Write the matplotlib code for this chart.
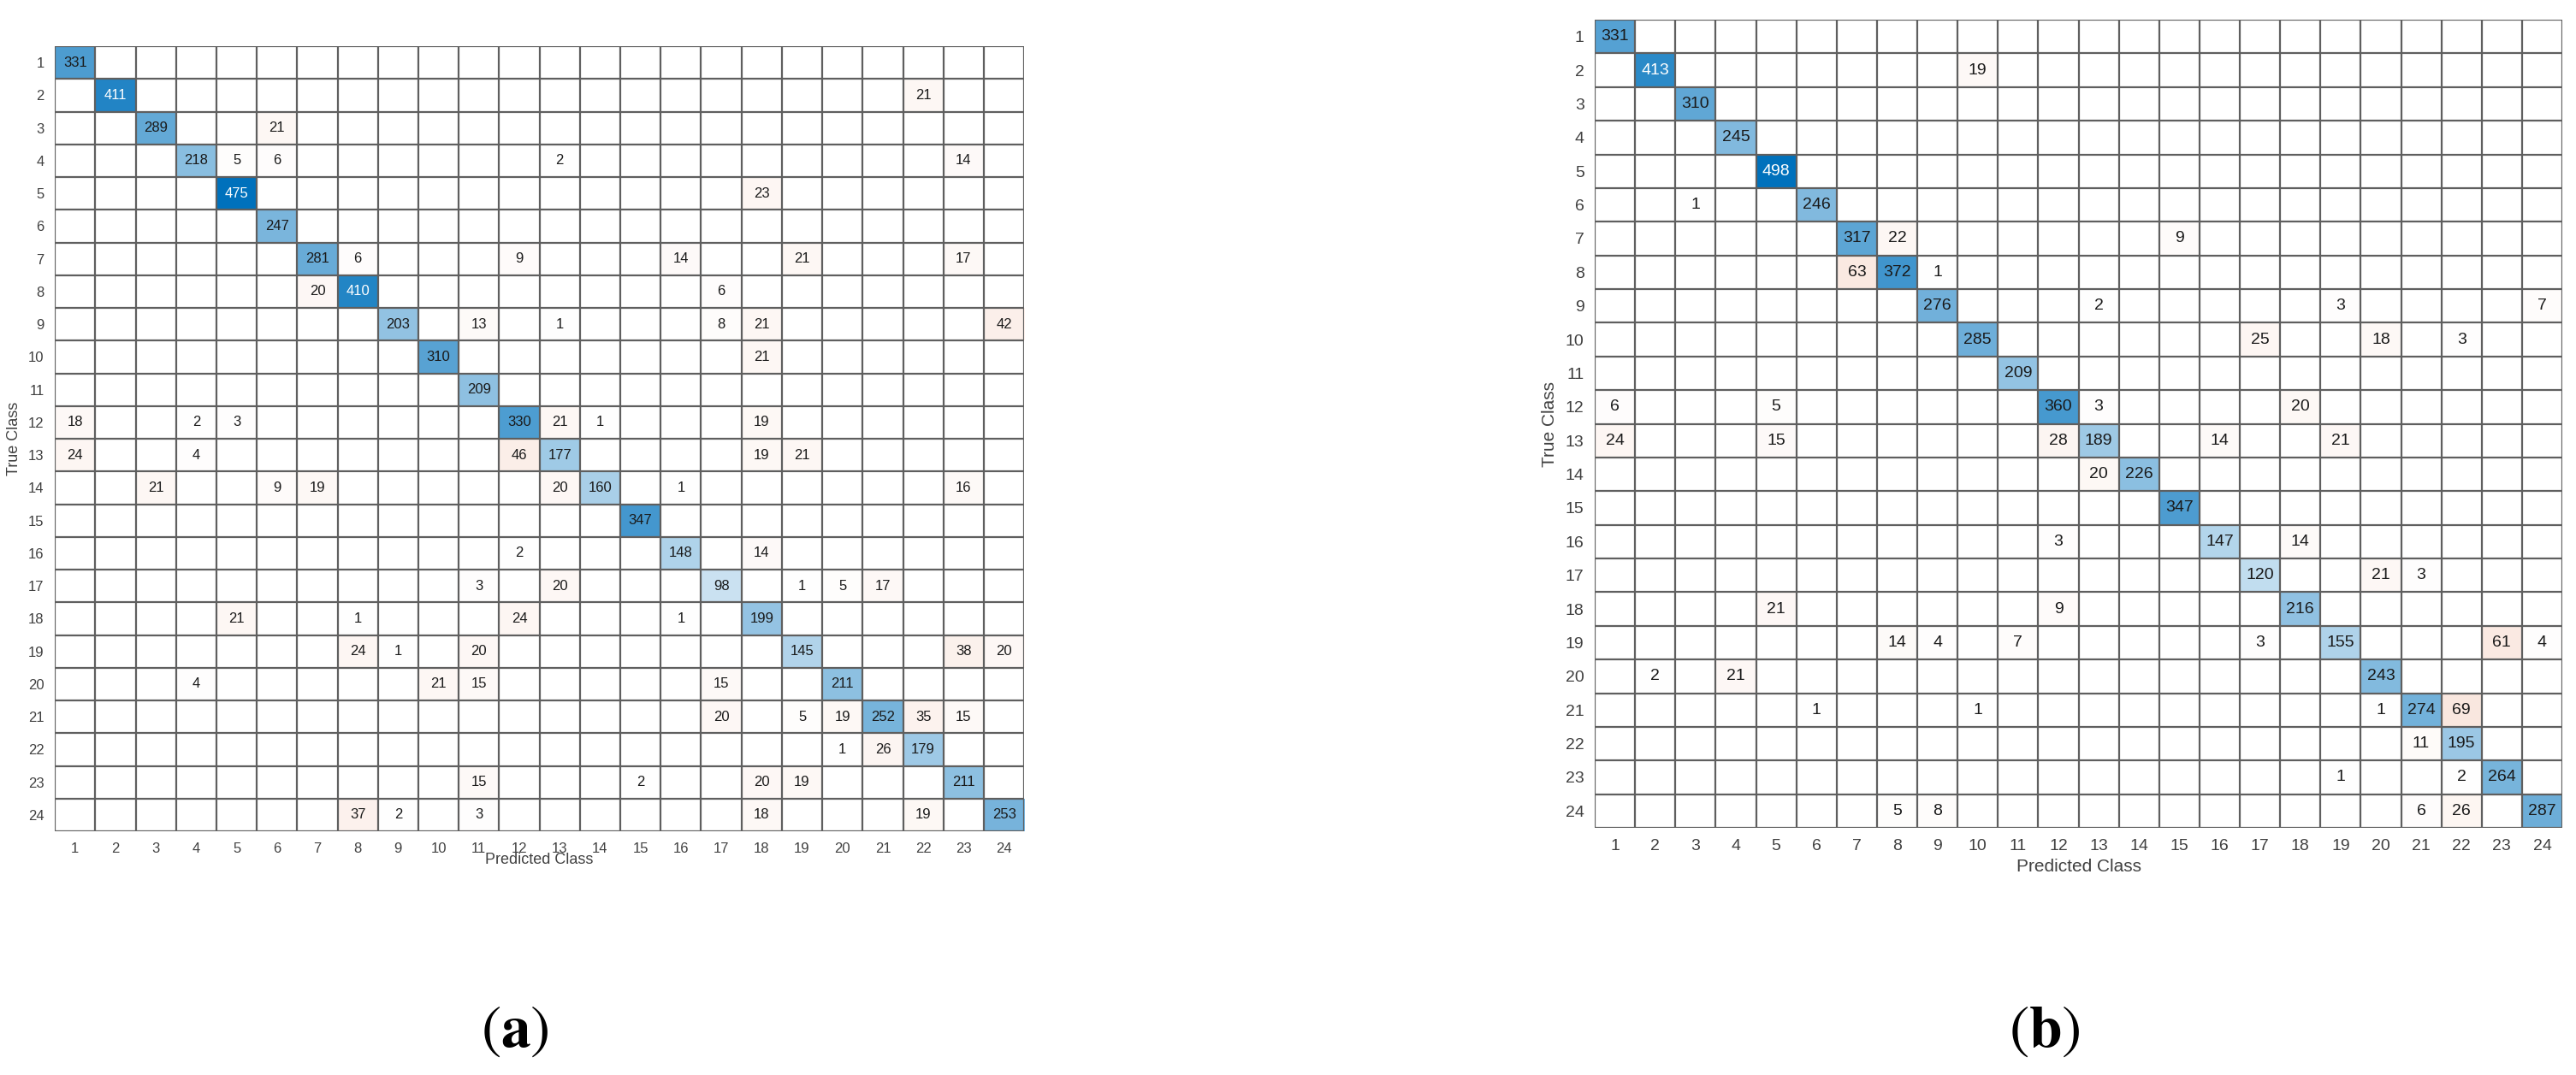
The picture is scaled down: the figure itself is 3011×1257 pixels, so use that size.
import numpy as np
import matplotlib.pyplot as plt

plt.rcParams['font.family'] = ['Liberation Sans', 'DejaVu Sans']
plt.rcParams['mathtext.fontset'] = 'stix'

classes = list(range(1, 25))

# (a) confusion matrix: diagonal + off-diagonal entries (true, predicted, count)
diag_a = [331, 411, 289, 218, 475, 247, 281, 410, 203, 310, 209, 330,
          177, 160, 347, 148, 98, 199, 145, 211, 252, 179, 211, 253]
true_a = [2, 3, 4, 4, 4, 4, 5, 7, 7, 7, 7, 7, 8, 8, 9, 9, 9, 9, 9, 10,
          12, 12, 12, 12, 12, 12, 13, 13, 13, 13, 13, 14, 14, 14, 14, 14, 14,
          16, 16, 17, 17, 17, 17, 17, 18, 18, 18, 18, 19, 19, 19, 19, 19,
          20, 20, 20, 20, 21, 21, 21, 21, 21, 22, 22, 23, 23, 23, 23,
          24, 24, 24, 24, 24]
pred_a = [22, 6, 5, 6, 13, 23, 18, 8, 12, 16, 19, 23, 7, 17, 11, 13, 17, 18, 24, 18,
          1, 4, 5, 13, 14, 18, 1, 4, 12, 18, 19, 3, 6, 7, 13, 16, 23,
          12, 18, 11, 13, 19, 20, 21, 5, 8, 12, 16, 8, 9, 11, 23, 24,
          4, 10, 11, 17, 17, 19, 20, 22, 23, 20, 21, 11, 15, 18, 19,
          8, 9, 11, 18, 22]
count_a = [21, 21, 5, 6, 2, 14, 23, 6, 9, 14, 21, 17, 20, 6, 13, 1, 8, 21, 42, 21,
           18, 2, 3, 21, 1, 19, 24, 4, 46, 19, 21, 21, 9, 19, 20, 1, 16,
           2, 14, 3, 20, 1, 5, 17, 21, 1, 24, 1, 24, 1, 20, 38, 20,
           4, 21, 15, 15, 20, 5, 19, 35, 15, 1, 26, 15, 2, 20, 19,
           37, 2, 3, 18, 19]

# (b) confusion matrix
diag_b = [331, 413, 310, 245, 498, 246, 317, 372, 276, 285, 209, 360,
          189, 226, 347, 147, 120, 216, 155, 243, 274, 195, 264, 287]
true_b = [2, 6, 7, 7, 8, 8, 9, 9, 9, 10, 10, 10, 12, 12, 12, 12,
          13, 13, 13, 13, 13, 14, 16, 16, 17, 17, 18, 18,
          19, 19, 19, 19, 19, 19, 20, 20, 21, 21, 21, 21, 22, 23, 23,
          24, 24, 24, 24]
pred_b = [10, 3, 8, 15, 7, 9, 13, 19, 24, 17, 20, 22, 1, 5, 13, 18,
          1, 5, 12, 16, 19, 13, 12, 18, 20, 21, 5, 12,
          8, 9, 11, 17, 23, 24, 2, 4, 6, 10, 20, 22, 21, 19, 22,
          8, 9, 21, 22]
count_b = [19, 1, 22, 9, 63, 1, 2, 3, 7, 25, 18, 3, 6, 5, 3, 20,
           24, 15, 28, 14, 21, 20, 3, 14, 21, 3, 21, 9,
           14, 4, 7, 3, 61, 4, 2, 21, 1, 1, 1, 69, 11, 1, 2,
           5, 8, 6, 26]

diag_color = np.array([0, 0.4470, 0.7410])
off_color = np.array([0.8500, 0.3250, 0.0980])
grid_color = '#5f5f5f'
text_color = '#404040'


def draw_confusion(ax, diag, rows, cols, vals, fs_tick, fs_cell, fs_label, xlabelpad):
    n = len(diag)
    cm = np.zeros((n, n))
    cm[np.arange(n), np.arange(n)] = diag
    cm[np.array(rows) - 1, np.array(cols) - 1] = vals
    alpha = cm / cm.max()
    eye = np.eye(n, dtype=bool)
    base = np.where(eye[..., None], diag_color, off_color)
    rgb = 1 - alpha[..., None] * (1 - base)
    ax.imshow(rgb, aspect='auto', interpolation='nearest',
              extent=(0.5, n + 0.5, n + 0.5, 0.5))
    for k in range(n + 1):
        ax.axhline(k + 0.5, color=grid_color, lw=1.6)
        ax.axvline(k + 0.5, color=grid_color, lw=1.6)
    for i in range(n):
        for j in range(n):
            if cm[i, j] > 0:
                c = 'white' if alpha[i, j] > 0.8 else '#1a1a1a'
                ax.text(j + 1, i + 1, str(int(cm[i, j])), ha='center', va='center',
                        fontsize=fs_cell, color=c)
    ax.set_xlim(0.5, n + 0.5)
    ax.set_ylim(n + 0.5, 0.5)
    ax.set_xticks(classes)
    ax.set_yticks(classes)
    ax.set_xticklabels(classes)
    ax.set_yticklabels(classes)
    ax.tick_params(length=0, labelsize=fs_tick, labelcolor=text_color, pad=9)
    ax.set_xlabel('Predicted Class', fontsize=fs_label, color=text_color, labelpad=xlabelpad)
    ax.set_ylabel('True Class', fontsize=fs_label, color=text_color, labelpad=6)
    for s in ax.spines.values():
        s.set_visible(False)


fig = plt.figure(figsize=(30.11, 12.57), dpi=100)
ax_a = fig.add_axes([0.0213, 0.2267, 0.3763, 0.7303])
ax_b = fig.add_axes([0.6191, 0.2299, 0.3756, 0.7518])

draw_confusion(ax_a, diag_a, true_a, pred_a, count_a, 12, 12, 13, -2)
draw_confusion(ax_b, diag_b, true_b, pred_b, count_b, 14, 14, 15, 5)

fig.text(602 / 3011, 1 - 1207 / 1257, r'($\mathbf{a}$)', fontsize=50,
         family='STIXGeneral', ha='center', va='center')
fig.text(2390 / 3011, 1 - 1207 / 1257, r'($\mathbf{b}$)', fontsize=50,
         family='STIXGeneral', ha='center', va='center')

fig.savefig('out.png', dpi=100, facecolor='white')
